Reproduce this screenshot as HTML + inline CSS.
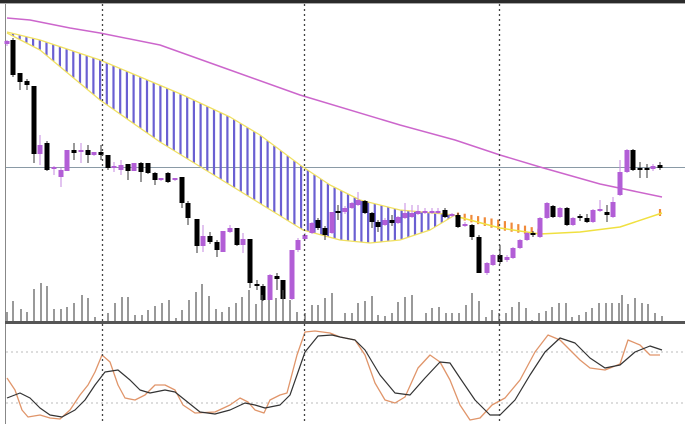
<!DOCTYPE html>
<html><head><meta charset="utf-8"><style>
html,body{margin:0;padding:0;background:#fff;width:685px;height:424px;overflow:hidden}
svg{display:block}
</style></head><body>
<svg id="s" width="685" height="424" xmlns="http://www.w3.org/2000/svg">
<rect x="0" y="0" width="685" height="424" fill="#fff"/>
<rect x="0" y="0" width="685" height="3" fill="#2b2b2b"/>
<line x1="0" y1="3.5" x2="685" y2="3.5" stroke="#aaa" stroke-width="1"/>
<line x1="5.5" y1="4" x2="5.5" y2="424" stroke="#888" stroke-width="1"/>
</svg>
<script>
var s=document.getElementById('s');var NS='http://www.w3.org/2000/svg';
function el(t,a){var e=document.createElementNS(NS,t);for(var k in a)e.setAttribute(k,a[k]);s.appendChild(e);return e;}
function interp(p,x){if(x<=p[0][0])return p[0][1];for(var i=1;i<p.length;i++){if(x<=p[i][0]){var a=p[i-1],b=p[i];return a[1]+(b[1]-a[1])*(x-a[0])/(b[0]-a[0]);}}return p[p.length-1][1];}
function pl(p,c,w,extra){var d=p.map(function(q){return q[0]+','+q[1]}).join(' ');var a={points:d,fill:'none',stroke:c,'stroke-width':w||1,'stroke-linejoin':'round'};for(var k in extra)a[k]=extra[k];el('polyline',a);}
// horizontal gray line
el('line',{x1:6,y1:167.5,x2:685,y2:167.5,stroke:'#8a9aa6','stroke-width':1});
// cloud
var up=[[7,32],[40,40],[100,60],[183,95],[230,117],[260,135],[300,165],[330,185],[360,200],[400,210],[455,215]];
var lo=[[7,33],[40,50],[100,100],[160,142],[230,185],[303,230],[340,240],[370,243],[400,240],[430,230],[455,215]];
for(var x=13;x<455;x+=6.7){var a=interp(up,x),b=interp(lo,x);if(b-a>1.5)el('line',{x1:x,y1:a,x2:x,y2:b,stroke:'#6a5fd2','stroke-width':2.2});}
var t2=[[455,214],[500,222],[540,231],[580,231],[620,226],[662,211]];
var l2=[[455,216],[500,228],[540,234],[580,232],[620,227],[662,213]];
for(var x=458;x<545;x+=6.7){var a=interp(t2,x)-2,b=interp(l2,x)+2;el('line',{x1:x,y1:a,x2:x,y2:b,stroke:'#f08a3a','stroke-width':2.2});}
el('line',{x1:660,y1:209,x2:660,y2:216,stroke:'#f08a3a','stroke-width':2.2});
pl(up,'#f0e060',1.3);pl(lo,'#f0e060',1.3);pl(l2,'#f0e040',1.5);
// magenta MA
pl([[7,18],[30,20],[70,28],[100,33],[160,45],[230,70],[300,95],[400,125],[455,140],[500,155],[540,167],[600,184],[662,197]],'#cc66cc',1.5);
// candles [x,top,bot,wt,wb,bear]
var C=[[7,41,44,40,46,0],[13,40,75,38,77,1],[20,73,82,73,90,1],[27,81,85,79,90,1],[34,86,154,86,163,1],[40,145,154,135,165,0],[47,143,170,141,171,1],[54,167,168,166,175,0],[61,170,177,168,187,0],[67,150,171,150,171,0],[74,150,153,143,160,1],[81,150,152,143,163,0],[88,150,155,145,163,1],[94,152,155,152,156,0],[101,152,155,145,160,1],[108,155,168,155,170,1],[114,166,168,162,172,0],[121,165,170,160,175,0],[128,164,171,164,180,1],[134,163,171,163,171,0],[141,163,172,162,182,1],[148,163,173,163,174,1],[155,173,180,172,185,1],[161,178,180,178,181,0],[168,173,182,172,183,1],[175,178,180,178,181,0],[182,177,203,177,208,1],[188,203,218,201,225,1],[197,219,246,219,253,1],[203,236,246,225,252,0],[210,236,242,232,244,1],[217,242,250,240,257,1],[223,231,252,231,252,0],[230,228,232,225,233,0],[237,228,245,228,246,1],[243,239,245,233,253,0],[250,239,283,239,288,1],[257,284,286,280,290,1],[263,286,300,284,301,1],[270,275,300,274,300,0],[277,276,279,273,290,1],[283,280,299,280,300,1],[292,250,299,250,300,0],[298,240,250,238,252,0],[305,235,239,233,241,0],[312,223,233,222,234,0],[318,220,228,218,230,1],[325,228,235,226,240,1],[332,212,233,212,234,0],[338,211,213,205,220,1],[345,208,212,206,214,0],[352,203,208,202,209,0],[358,200,205,192,206,0],[365,201,213,200,214,1],[372,213,222,212,228,1],[378,222,227,220,232,1],[385,220,225,218,226,0],[392,220,223,215,226,1],[398,217,223,216,224,0],[405,213,218,203,219,0],[412,213,217,205,218,0],[418,211,214,205,215,0],[425,211,213,208,214,0],[432,211,213,208,214,0],[438,211,213,208,214,0],[445,210,217,208,218,1],[452,214,216,213,217,0],[458,215,227,213,228,1],[465,224,226,222,227,0],[472,225,237,224,240,1],[479,237,273,235,273,1],[487,263,273,262,275,0],[493,255,265,254,266,0],[500,255,262,245,264,1],[507,257,260,255,262,0],[513,248,258,247,259,0],[520,240,248,239,249,0],[527,233,240,232,241,0],[533,233,235,231,237,1],[540,218,237,217,238,0],[547,203,218,202,219,0],[553,206,217,205,218,1],[560,208,217,207,218,0],[567,208,225,207,226,1],[573,218,225,217,226,0],[580,216,218,214,221,1],[587,218,222,214,223,1],[593,210,222,209,223,0],[600,209,211,200,212,0],[607,212,215,205,222,1],[613,202,217,197,218,0],[620,172,195,160,196,0],[627,150,172,149,173,0],[633,150,170,149,171,1],[640,168,170,162,178,1],[647,168,170,164,178,1],[653,166,169,164,171,0],[660,165,168,162,170,1]];
C.forEach(function(c){var col=c[5]?'#000':'#b25ed6';el('line',{x1:c[0],y1:c[3],x2:c[0],y2:c[4],stroke:c[5]?'#333':'#c58ae0','stroke-width':1});var h=Math.max(c[2]-c[1],2);el('rect',{x:c[0]-2.5,y:c[1],width:5,height:h,fill:col});});
// volume
var V=[[7,312],[13,301],[21,309],[27,312],[34,289],[41,283],[47,286],[54,309],[61,309],[67,307],[74,303],[82,295],[88,298],[95,317],[108,313],[115,303],[122,297],[128,297],[135,315],[142,315],[148,310],[155,306],[162,303],[169,300],[176,318],[182,310],[189,300],[196,292],[202,284],[209,296],[216,309],[222,312],[229,307],[236,303],[242,297],[249,290],[256,304],[262,295],[269,300],[276,298],[283,290],[290,300],[297,312],[305,313],[312,305],[318,305],[325,298],[332,293],[345,313],[352,313],[358,303],[365,301],[372,296],[378,315],[385,316],[392,313],[398,302],[405,297],[412,295],[419,321],[426,313],[432,308],[439,307],[446,313],[452,313],[459,313],[466,305],[472,293],[479,301],[486,317],[492,310],[499,313],[506,313],[512,307],[519,302],[526,308],[532,320],[539,313],[546,311],[552,307],[559,303],[566,303],[572,317],[579,315],[586,312],[592,308],[599,303],[606,303],[612,303],[619,303],[622,295],[628,304],[635,298],[642,303],[648,304],[655,313],[662,316]];
V.forEach(function(v){el('line',{x1:v[0],y1:v[1],x2:v[0],y2:322,stroke:'#555','stroke-width':1.2});});
el('rect',{x:5,y:321,width:680,height:3,fill:'#555'});
// stoch levels
el('line',{x1:6,y1:352,x2:685,y2:352,stroke:'#bbb','stroke-width':1,'stroke-dasharray':'2,3'});
el('line',{x1:6,y1:403,x2:685,y2:403,stroke:'#bbb','stroke-width':1,'stroke-dasharray':'2,3'});
pl([[7,378],[15,390],[22,410],[28,417],[40,415],[50,418],[60,419],[70,410],[80,395],[88,385],[95,372],[102,355],[110,362],[118,385],[125,398],[135,400],[145,395],[155,385],[165,385],[175,390],[183,405],[195,413],[215,412],[230,405],[240,398],[248,402],[255,410],[264,413],[270,400],[280,395],[287,393],[297,355],[305,332],[315,331],[330,333],[340,337],[355,340],[365,355],[375,383],[385,400],[395,403],[405,397],[418,368],[430,355],[440,362],[450,380],[460,405],[470,420],[480,418],[492,405],[505,398],[520,380],[535,352],[548,335],[560,340],[570,350],[580,360],[590,368],[605,370],[620,364],[628,340],[640,345],[650,355],[660,355]],'#e0956a',1.3);
pl([[7,398],[20,393],[30,398],[40,408],[50,415],[62,417],[75,410],[85,400],[95,385],[105,372],[118,370],[130,380],[140,390],[150,393],[165,390],[175,392],[185,400],[200,412],[215,414],[230,410],[245,403],[255,405],[265,408],[280,405],[290,395],[297,375],[305,352],[318,336],[332,335],[340,337],[355,340],[365,350],[380,375],[395,393],[410,395],[425,378],[440,362],[450,363],[460,378],[475,400],[490,415],[500,415],[515,400],[530,375],[545,352],[560,338],[575,343],[590,358],[605,368],[620,365],[635,352],[650,346],[662,350]],'#333',1.2);
// vertical dotted
[102,304,499].forEach(function(x){el('line',{x1:x+0.5,y1:4,x2:x+0.5,y2:424,stroke:'#444','stroke-width':1.3,'stroke-dasharray':'2,3'});});
</script>
</body></html>
